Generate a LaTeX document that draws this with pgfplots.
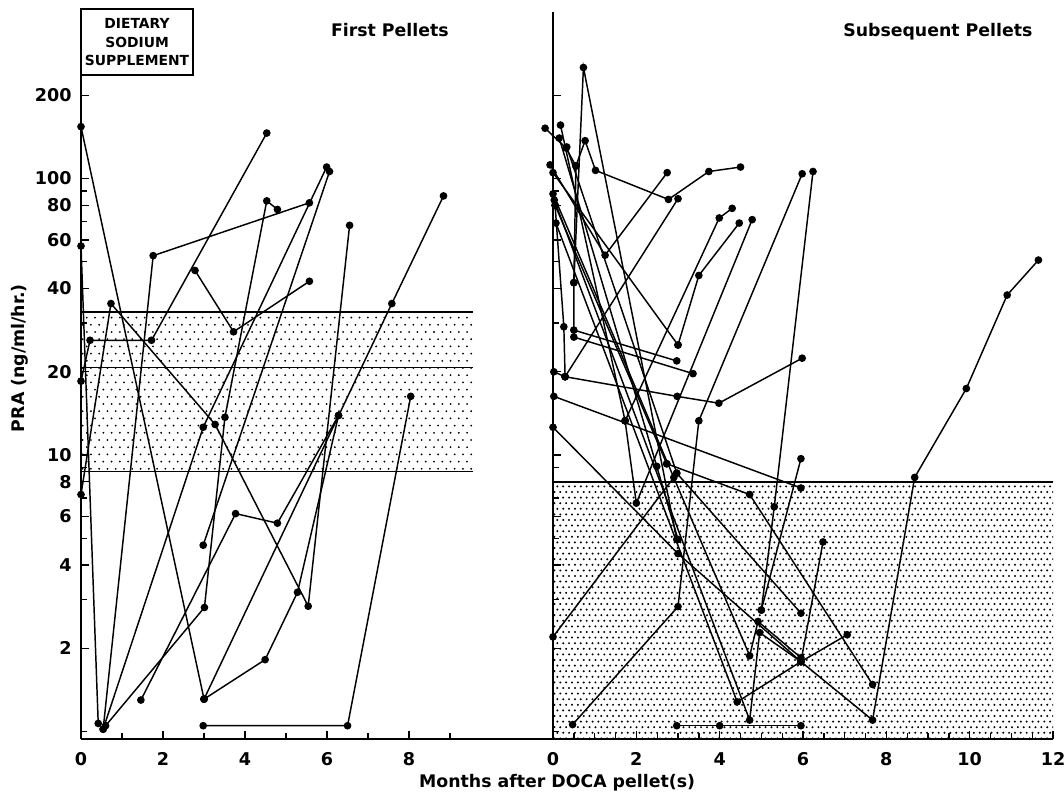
\documentclass[border=0pt]{standalone}
\usepackage{fontspec}
\setmainfont{DejaVu Sans}
\usepackage{pgfplots}
\pgfplotsset{compat=1.18}
\usetikzlibrary{patterns}

% dot screens of the two normal ranges
\pgfdeclarepatternformonly{leftdots}{\pgfqpoint{-0.5pt}{-0.5pt}}{\pgfqpoint{2.1pt}{3.2pt}}{\pgfqpoint{3.1pt}{5.4pt}}{%
  \pgfpathcircle{\pgfqpoint{0pt}{0pt}}{0.38pt}%
  \pgfpathcircle{\pgfqpoint{1.55pt}{2.7pt}}{0.38pt}%
  \pgfusepath{fill}}
\pgfdeclarepatternformonly{rightdots}{\pgfqpoint{-0.5pt}{-0.5pt}}{\pgfqpoint{1.7pt}{2.7pt}}{\pgfqpoint{2.2pt}{4.2pt}}{%
  \pgfpathcircle{\pgfqpoint{0pt}{0pt}}{0.42pt}%
  \pgfpathcircle{\pgfqpoint{1.1pt}{2.1pt}}{0.42pt}%
  \pgfusepath{fill}}

\tikzset{dl/.style={black, line width=0.55pt, mark=*, mark size=1.15pt, mark options={solid}}}

\begin{document}
\begin{tikzpicture}
\useasboundingbox (0,0) rectangle (399pt,300pt);

% ---------- First pellets ----------
\begin{axis}[at={(30.375pt,22.875pt)}, anchor=south west, scale only axis,
  width=177pt, height=272.625pt,
  ymode=log, ymin=0.94, ymax=400,
  xmin=0, xmax=11.51,
  axis lines=left, axis line style={-, line width=0.8pt},
  clip=false,
  xtick={0,2,4,6,8}, xticklabels={0,2,4,6,8}, minor xtick={1,3,5,7,9},
  ytick={2,4,6,8,10,20,40,60,80,100,200},
  yticklabels={2,4,6,8,10,20,40,60,80,100,200},
  minor ytick={1,3,5,7,9,30,50,70,90},
  tick align=inside, major tick length=3pt, minor tick length=2.2pt,
  tick style={black, line width=0.5pt},
  ticklabel style={font=\fontsize{6.6}{7}\selectfont\bfseries},
  xticklabel style={yshift=-1.5pt}]
  \addplot[draw=none, pattern=leftdots, forget plot] coordinates {(0,8.7) (9.56,8.7) (9.56,32.9) (0,32.9)} -- cycle;
  \addplot[black, line width=0.4pt] coordinates {(0,32.9) (9.56,32.9)};
  \addplot[black, line width=0.4pt] coordinates {(0,20.8) (9.56,20.8)};
  \addplot[black, line width=0.4pt] coordinates {(0,8.7) (9.56,8.7)};

  \addplot[dl] coordinates {(0,154) (3,1.31)};
  \addplot[dl] coordinates {(3,1.31) (4.49,1.82) (5.28,3.19) (6.28,13.9)};
  \addplot[dl] coordinates {(3,1.31) (7.58,35.3) (8.84,86.5)};
  \addplot[dl] coordinates {(0,7.2) (0.73,35.3) (3.27,12.9) (5.54,2.84) (6.55,67.7)};
  \addplot[dl] coordinates {(0,18.5) (0.22,26) (1.72,26) (4.53,146)};
  \addplot[dl] coordinates {(0.54,1.02) (1.76,52.6) (5.57,81.7)};
  \addplot[dl] coordinates {(2.78,46.5) (3.72,27.9) (5.57,42.5)};
  \addplot[dl] coordinates {(0,57) (0.42,1.07)};
  \addplot[dl] coordinates {(1.46,1.3) (3.77,6.14) (4.79,5.67) (6.28,13.9)};
  \addplot[dl] coordinates {(0.6,1.05) (3.01,2.81) (3.51,13.7) (4.53,83) (4.79,77.3)};
  \addplot[dl] coordinates {(2.98,4.72) (6.06,106)};
  \addplot[dl] coordinates {(0.54,1.02) (2.98,12.6) (5.99,110)};
  \addplot[dl] coordinates {(2.98,1.05) (6.5,1.05) (8.04,16.3)};
\end{axis}

% ---------- Subsequent pellets ----------
\begin{axis}[at={(207.375pt,22.875pt)}, anchor=south west, scale only axis,
  width=187.5pt, height=272.625pt,
  ymode=log, ymin=0.94, ymax=400,
  xmin=0, xmax=12,
  axis lines=left, axis line style={-, line width=0.8pt},
  clip=false,
  xtick={0,2,4,6,8,10,12}, xticklabels={0,2,4,6,8,10,12},
  minor xtick={0,0.5,...,12},
  ytick={2,4,6,8,10,20,40,60,80,100,200}, yticklabels={},
  minor ytick={1,3,5,7,9,30,50,70,90},
  tick align=inside, major tick length=3pt, minor tick length=2.2pt,
  tick style={black, line width=0.5pt},
  ticklabel style={font=\fontsize{6.6}{7}\selectfont\bfseries},
  xticklabel style={yshift=-1.5pt}]
  \addplot[draw=none, pattern=rightdots, forget plot] coordinates {(0,0.94) (12,0.94) (12,8) (0,8)} -- cycle;
  \addplot[black, line width=0.6pt] coordinates {(0,8) (12,8)};

  \addplot[dl] coordinates {(0,12.6) (3.0,4.4) (5.95,1.79) (7.67,1.1) (8.68,8.3) (9.92,17.4) (10.9,37.9) (11.65,50.7)};
  \addplot[dl] coordinates {(0.47,1.06) (3.0,2.83) (3.5,13.3) (5.98,104)};
  \addplot[dl] coordinates {(0,2.2) (2.9,8.3)};
  \addplot[dl] coordinates {(-0.19,152) (0.31,129) (0.55,111) (0.5,42) (0.5,28.3) (2.97,21.9)};
  \addplot[dl] coordinates {(0.55,111) (0.77,137) (1.02,107) (2.77,84) (3.74,106) (4.5,110)};
  \addplot[dl] coordinates {(-0.07,112) (1.25,52.8) (2.74,105)};
  \addplot[dl] coordinates {(0.02,20) (0.29,19.2) (2.98,16.3) (3.98,15.4) (5.98,22.4)};
  \addplot[dl] coordinates {(0.29,19.2) (3.0,84.5)};
  \addplot[dl] coordinates {(0.5,26.7) (3.36,19.7)};
  \addplot[dl] coordinates {(0.0,105) (3.0,25)};
  \addplot[dl] coordinates {(3.0,25) (3.5,44.6) (4.47,69)};
  \addplot[dl] coordinates {(0.5,42) (0.73,252) (2.97,4.95)};
  \addplot[dl] coordinates {(0.02,16.3) (5.95,7.6)};
  \addplot[dl] coordinates {(2.73,9.3) (4.72,7.2) (7.67,1.48)};
  \addplot[dl] coordinates {(2.97,8.6) (5.95,2.68)};
  \addplot[dl] coordinates {(5.95,9.7) (5.0,2.75)};
  \addplot[dl] coordinates {(5.0,2.75) (5.31,6.5) (6.24,106)};
  \addplot[dl] coordinates {(1.73,13.3) (3.99,72) (4.3,78)};
  \addplot[dl] coordinates {(1.73,13.3) (2.0,6.7) (4.78,71)};
  \addplot[dl] coordinates {(0.07,69) (4.42,1.28) (5.95,1.79) (7.06,2.24)};
  \addplot[dl] coordinates {(0.03,83.6) (4.72,1.1) (4.96,2.28) (5.95,1.79)};
  \addplot[dl] coordinates {(0.0,88) (4.72,1.88) (4.92,2.5) (5.95,1.85)};
  \addplot[dl] coordinates {(5.95,1.79) (6.48,4.85)};
  \addplot[dl] coordinates {(2.97,1.05) (4.0,1.05) (5.95,1.05)};
  \addplot[dl] coordinates {(0.15,140) (2.49,9.1) (3.0,4.95)};
  \addplot[dl] coordinates {(0.33,130) (2.97,8.6)};
  \addplot[dl] coordinates {(0.18,156) (1.73,13.3)};
  \addplot[dl] coordinates {(0.05,80) (2.73,9.3)};
  \addplot[dl] coordinates {(0.05,80) (0.26,29.1) (0.29,19.2)};
\end{axis}

% ---------- texts ----------
\draw[line width=0.7pt] (30.375pt,296.625pt) rectangle (72.4pt,271.9pt);
\node[align=center, font=\fontsize{5.2}{7}\selectfont\bfseries, inner sep=0pt]
  at (51.4pt,284.2pt) {DIETARY\\SODIUM\\SUPPLEMENT};
\node[font=\fontsize{6.5}{8}\selectfont\bfseries] at (146.2pt,288.8pt) {First Pellets};
\node[font=\fontsize{6.5}{8}\selectfont\bfseries] at (351.7pt,288pt) {Subsequent Pellets};
\node[font=\fontsize{6.5}{8}\selectfont\bfseries, rotate=90] at (7.5pt,165.7pt) {PRA (ng/ml/hr.)};
\node[font=\fontsize{6.5}{8}\selectfont\bfseries] at (208.9pt,6.4pt) {Months after DOCA pellet(s)};
\end{tikzpicture}
\end{document}
